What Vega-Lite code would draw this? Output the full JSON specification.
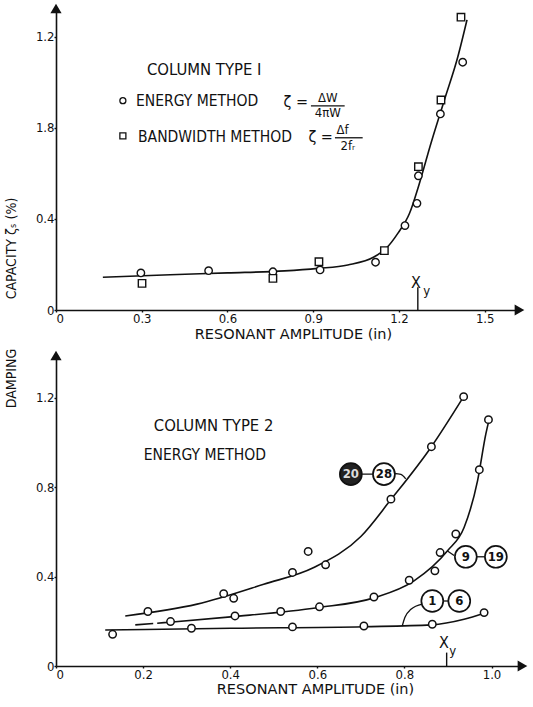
{
  "$schema": "https://vega.github.io/schema/vega-lite/v6.json",
  "background": "white",
  "padding": {"left": 3, "top": 1, "right": 5, "bottom": 0},
  "spacing": 7,
  "config": {
    "view": {"stroke": null},
    "font": "DejaVu Sans Condensed",
    "axis": {
      "domainColor": "#111", "domainWidth": 1.6, "tickColor": "#111", "tickWidth": 1.4, "tickSize": 2,
      "labelColor": "#111", "titleColor": "#111", "labelFont": "DejaVu Sans Condensed", "titleFont": "DejaVu Sans Condensed",
      "labelFontSize": 13, "titleFontSize": 14, "titleFontWeight": "normal", "grid": false, "labelPadding": 0
    }
  },
  "vconcat": [
    {
      "width": 463,
      "height": 301,
      "encoding": {
        "x": {"field": "x", "type": "quantitative", "scale": {"domain": [0, 1.62], "nice": false, "zero": false},
          "axis": {"title": "RESONANT AMPLITUDE (in)", "values": [0, 0.3, 0.6, 0.9, 1.2, 1.5],
            "labelExpr": "datum.value == 0 ? '0' : format(datum.value, '.1f')", "titleX": 237, "titlePadding": 2,
            "titleFont": "DejaVu Sans", "titleFontSize": 14.5}},
        "y": {"field": "y", "type": "quantitative", "scale": {"domain": [0, 1.323], "nice": false},
          "axis": {"title": "CAPACITY ζₛ (%)", "values": [0, 0.4, 0.8, 1.2],
            "labelExpr": "datum.value == 0 ? '0' : (datum.value == 0.8 ? '1.8' : format(datum.value, '.1f'))",
            "titleX": -38, "titleY": 239}}
      },
      "layer": [
        {
          "data": {"values": [
            {"x": 0.164, "y": 0.144}, {"x": 0.4, "y": 0.155}, {"x": 0.6, "y": 0.163}, {"x": 0.8, "y": 0.172},
            {"x": 0.916, "y": 0.183}, {"x": 1.021, "y": 0.198}, {"x": 1.114, "y": 0.234}, {"x": 1.155, "y": 0.271},
            {"x": 1.196, "y": 0.337}, {"x": 1.237, "y": 0.425}, {"x": 1.268, "y": 0.542}, {"x": 1.312, "y": 0.733},
            {"x": 1.359, "y": 0.923}, {"x": 1.406, "y": 1.113}, {"x": 1.438, "y": 1.275}
          ]},
          "mark": {"type": "line", "interpolate": "monotone", "stroke": "#111", "strokeWidth": 1.6}
        },
        {
          "data": {"values": [
            {"x": 0.297, "y": 0.163, "method": "energy"}, {"x": 0.534, "y": 0.173, "method": "energy"},
            {"x": 0.759, "y": 0.168, "method": "energy"}, {"x": 0.924, "y": 0.176, "method": "energy"},
            {"x": 1.118, "y": 0.21, "method": "energy"}, {"x": 1.221, "y": 0.371, "method": "energy"},
            {"x": 1.263, "y": 0.469, "method": "energy"}, {"x": 1.268, "y": 0.59, "method": "energy"},
            {"x": 1.345, "y": 0.862, "method": "energy"}, {"x": 1.423, "y": 1.089, "method": "energy"},
            {"x": 0.301, "y": 0.117, "method": "bandwidth"}, {"x": 0.759, "y": 0.139, "method": "bandwidth"},
            {"x": 0.92, "y": 0.212, "method": "bandwidth"}, {"x": 1.149, "y": 0.261, "method": "bandwidth"},
            {"x": 1.268, "y": 0.63, "method": "bandwidth"}, {"x": 1.347, "y": 0.923, "method": "bandwidth"},
            {"x": 1.417, "y": 1.287, "method": "bandwidth"}
          ]},
          "mark": {"type": "point", "filled": true, "fill": "white", "stroke": "#111", "strokeWidth": 1.4, "size": 55, "opacity": 1},
          "encoding": {"shape": {"field": "method", "type": "nominal",
            "scale": {"domain": ["energy", "bandwidth", "up", "right"], "range": ["circle", "square", "triangle-up", "triangle-right"]}, "legend": null}}
        },
        {
          "data": {"values": [
            {"x": 0.234, "y": 0.92, "method": "energy"}, {"x": 0.234, "y": 0.765, "method": "bandwidth"}
          ]},
          "mark": {"type": "point", "filled": true, "fill": "white", "stroke": "#111", "strokeWidth": 1.3, "size": 36, "opacity": 1},
          "encoding": {"shape": {"field": "method", "type": "nominal",
            "scale": {"domain": ["energy", "bandwidth", "up", "right"], "range": ["circle", "square", "triangle-up", "triangle-right"]}, "legend": null}}
        },
        {
          "data": {"values": [
            {"x": 0.318, "y": 1.055, "t": "COLUMN TYPE I"}
          ]},
          "mark": {"type": "text", "align": "left", "baseline": "middle", "fontSize": 16.5, "fill": "#111", "font": "DejaVu Sans Condensed"},
          "encoding": {"text": {"field": "t"}}
        },
        {
          "data": {"values": [
            {"x": 0.28, "y": 0.92, "t": "ENERGY METHOD"},
            {"x": 0.287, "y": 0.76, "t": "BANDWIDTH METHOD"}
          ]},
          "mark": {"type": "text", "align": "left", "baseline": "middle", "fontSize": 15.5, "fill": "#111", "font": "DejaVu Sans Condensed"},
          "encoding": {"text": {"field": "t"}}
        },
        {
          "data": {"values": [
            {"x": 0.839, "y": 0.915, "t": "ζ ="}, {"x": 0.926, "y": 0.76, "t": "ζ ="},
            {"x": 1.259, "y": 0.119, "t": "X"}
          ]},
          "mark": {"type": "text", "align": "center", "baseline": "middle", "fontSize": 16, "fill": "#111", "font": "DejaVu Sans Condensed"},
          "encoding": {"text": {"field": "t"}}
        },
        {
          "data": {"values": [
            {"x": 0.951, "y": 0.93, "t": "ΔW"}, {"x": 0.951, "y": 0.867, "t": "4πW"},
            {"x": 1.003, "y": 0.79, "t": "Δf"}, {"x": 1.021, "y": 0.722, "t": "2fᵣ"},
            {"x": 1.297, "y": 0.085, "t": "y"}
          ]},
          "mark": {"type": "text", "align": "center", "baseline": "middle", "fontSize": 13, "fill": "#111", "font": "DejaVu Sans Condensed"},
          "encoding": {"text": {"field": "t"}}
        },
        {
          "data": {"values": [
            {"x": 0.892, "x2": 1.01, "y": 0.897}, {"x": 0.976, "x2": 1.073, "y": 0.757}
          ]},
          "mark": {"type": "rule", "stroke": "#111", "strokeWidth": 1.3},
          "encoding": {"x2": {"field": "x2"}}
        },
        {
          "data": {"values": [{"x": 1.266, "y": 0, "y2": 0.1}]},
          "mark": {"type": "rule", "stroke": "#111", "strokeWidth": 1.4},
          "encoding": {"y2": {"field": "y2"}}
        },
        {
          "data": {"values": [{"x": 0, "y": 1.323, "method": "up"}, {"x": 1.62, "y": 0, "method": "right"}]},
          "mark": {"type": "point", "filled": true, "fill": "#111", "stroke": "#111", "size": 60, "opacity": 1},
          "encoding": {"shape": {"field": "method", "type": "nominal",
            "scale": {"domain": ["energy", "bandwidth", "up", "right"], "range": ["circle", "square", "triangle-up", "triangle-right"]}, "legend": null}}
        }
      ]
    },
    {
      "width": 466,
      "height": 310,
      "encoding": {
        "x": {"field": "x", "type": "quantitative", "scale": {"domain": [0, 1.07], "nice": false, "zero": false},
          "axis": {"title": "RESONANT AMPLITUDE (in)", "values": [0, 0.2, 0.4, 0.6, 0.8, 1.0],
            "labelExpr": "datum.value == 0 ? '0' : format(datum.value, '.1f')", "titleX": 259, "titlePadding": 1,
            "titleFont": "DejaVu Sans", "titleFontSize": 14.5}},
        "y": {"field": "y", "type": "quantitative", "scale": {"domain": [0, 1.388], "nice": false},
          "axis": {"title": "DAMPING", "values": [0, 0.4, 0.8, 1.2],
            "labelExpr": "datum.value == 0 ? '0' : format(datum.value, '.1f')",
            "titleX": -38, "titleY": 22}}
      },
      "layer": [
        {
          "data": {"values": [
            {"x": 0.159, "y": 0.224, "series": "20-28"}, {"x": 0.324, "y": 0.277, "series": "20-28"},
            {"x": 0.477, "y": 0.366, "series": "20-28"}, {"x": 0.592, "y": 0.441, "series": "20-28"},
            {"x": 0.70, "y": 0.58, "series": "20-28"}, {"x": 0.769, "y": 0.745, "series": "20-28"},
            {"x": 0.862, "y": 0.982, "series": "20-28"}, {"x": 0.936, "y": 1.206, "series": "20-28"},
            {"x": 0.248, "y": 0.194, "series": "9-19"}, {"x": 0.401, "y": 0.22, "series": "9-19"},
            {"x": 0.6, "y": 0.261, "series": "9-19"}, {"x": 0.73, "y": 0.305, "series": "9-19"},
            {"x": 0.822, "y": 0.381, "series": "9-19"}, {"x": 0.899, "y": 0.516, "series": "9-19"},
            {"x": 0.937, "y": 0.62, "series": "9-19"}, {"x": 0.968, "y": 0.83, "series": "9-19"},
            {"x": 0.987, "y": 1.039, "series": "9-19"}, {"x": 0.994, "y": 1.1, "series": "9-19"},
            {"x": 0.113, "y": 0.161, "series": "1-6"}, {"x": 0.401, "y": 0.169, "series": "1-6"},
            {"x": 0.707, "y": 0.176, "series": "1-6"}, {"x": 0.862, "y": 0.184, "series": "1-6"},
            {"x": 0.937, "y": 0.209, "series": "1-6"}, {"x": 0.983, "y": 0.236, "series": "1-6"}
          ]},
          "mark": {"type": "line", "interpolate": "monotone", "stroke": "#111", "strokeWidth": 1.6},
          "encoding": {"detail": {"field": "series"}}
        },
        {
          "data": {"values": [{"x": 0.182, "y": 0.184}, {"x": 0.248, "y": 0.194}]},
          "mark": {"type": "line", "stroke": "#111", "strokeWidth": 1.6, "strokeDash": [18, 4]}
        },
        {
          "data": {"values": [
            {"x": 0.776, "y": 0.862, "leader": "28"}, {"x": 0.792, "y": 0.858, "leader": "28"}, {"x": 0.803, "y": 0.838, "leader": "28"},
            {"x": 0.899, "y": 0.515, "leader": "9"}, {"x": 0.914, "y": 0.495, "leader": "9"},
            {"x": 0.795, "y": 0.179, "leader": "1"}, {"x": 0.801, "y": 0.217, "leader": "1"},
            {"x": 0.815, "y": 0.254, "leader": "1"}, {"x": 0.841, "y": 0.277, "leader": "1"}
          ]},
          "mark": {"type": "line", "interpolate": "monotone", "stroke": "#111", "strokeWidth": 1.3},
          "encoding": {"detail": {"field": "leader"}}
        },
        {
          "data": {"values": [
            {"x": 0.211, "y": 0.244}, {"x": 0.385, "y": 0.324}, {"x": 0.408, "y": 0.303}, {"x": 0.543, "y": 0.419},
            {"x": 0.579, "y": 0.513}, {"x": 0.619, "y": 0.453}, {"x": 0.769, "y": 0.747}, {"x": 0.862, "y": 0.982},
            {"x": 0.936, "y": 1.206},
            {"x": 0.263, "y": 0.199}, {"x": 0.411, "y": 0.224}, {"x": 0.516, "y": 0.244}, {"x": 0.605, "y": 0.265},
            {"x": 0.73, "y": 0.309}, {"x": 0.811, "y": 0.384}, {"x": 0.87, "y": 0.426}, {"x": 0.882, "y": 0.508},
            {"x": 0.918, "y": 0.591}, {"x": 0.972, "y": 0.879}, {"x": 0.993, "y": 1.103},
            {"x": 0.13, "y": 0.142}, {"x": 0.311, "y": 0.169}, {"x": 0.543, "y": 0.175}, {"x": 0.707, "y": 0.179},
            {"x": 0.864, "y": 0.187}, {"x": 0.983, "y": 0.239}
          ]},
          "mark": {"type": "point", "shape": "circle", "filled": true, "fill": "white", "stroke": "#111", "strokeWidth": 1.5, "size": 55, "opacity": 1}
        },
        {
          "data": {"values": [
            {"x": 0.677, "x2": 0.753, "y": 0.859}, {"x": 0.941, "x2": 1.01, "y": 0.489}, {"x": 0.864, "x2": 0.926, "y": 0.291}
          ]},
          "mark": {"type": "rule", "stroke": "#111", "strokeWidth": 1.3},
          "encoding": {"x2": {"field": "x2"}}
        },
        {
          "data": {"values": [
            {"x": 0.677, "y": 0.859, "label": "20"}, {"x": 0.753, "y": 0.859, "label": "28"},
            {"x": 0.941, "y": 0.489, "label": "9"}, {"x": 1.01, "y": 0.489, "label": "19"},
            {"x": 0.864, "y": 0.291, "label": "1"}, {"x": 0.926, "y": 0.291, "label": "6"}
          ]},
          "layer": [
            {
              "mark": {"type": "point", "shape": "circle", "filled": true, "stroke": "#111", "strokeWidth": 1.7, "size": 480, "opacity": 1},
              "encoding": {"fill": {"field": "label", "type": "nominal",
                "scale": {"domain": ["20", "28", "9", "19", "1", "6"], "range": ["#222", "white", "white", "white", "white", "white"]}, "legend": null}}
            },
            {
              "mark": {"type": "text", "align": "center", "baseline": "middle", "fontSize": 13, "fontWeight": "bold", "font": "DejaVu Sans Condensed"},
              "encoding": {"text": {"field": "label"}, "color": {"field": "label", "type": "nominal",
                "scale": {"domain": ["20", "28", "9", "19", "1", "6"], "range": ["#ddd", "#111", "#111", "#111", "#111", "#111"]}, "legend": null}}
            }
          ]
        },
        {
          "data": {"values": [
            {"x": 0.2245, "y": 1.076, "t": "COLUMN TYPE 2"}
          ]},
          "mark": {"type": "text", "align": "left", "baseline": "middle", "fontSize": 16.5, "fill": "#111", "font": "DejaVu Sans Condensed"},
          "encoding": {"text": {"field": "t"}}
        },
        {
          "data": {"values": [
            {"x": 0.2016, "y": 0.946, "t": "ENERGY METHOD"}
          ]},
          "mark": {"type": "text", "align": "left", "baseline": "middle", "fontSize": 15.5, "fill": "#111", "font": "DejaVu Sans Condensed"},
          "encoding": {"text": {"field": "t"}}
        },
        {
          "data": {"values": [{"x": 0.891, "y": 0.105, "t": "X"}]},
          "mark": {"type": "text", "align": "center", "baseline": "middle", "fontSize": 16, "fill": "#111", "font": "DejaVu Sans Condensed"},
          "encoding": {"text": {"field": "t"}}
        },
        {
          "data": {"values": [{"x": 0.911, "y": 0.068, "t": "y"}]},
          "mark": {"type": "text", "align": "center", "baseline": "middle", "fontSize": 13, "fill": "#111", "font": "DejaVu Sans Condensed"},
          "encoding": {"text": {"field": "t"}}
        },
        {
          "data": {"values": [{"x": 0.897, "y": 0, "y2": 0.06}]},
          "mark": {"type": "rule", "stroke": "#111", "strokeWidth": 1.4},
          "encoding": {"y2": {"field": "y2"}}
        },
        {
          "data": {"values": [{"x": 0, "y": 1.388, "dir": "up"}, {"x": 1.07, "y": 0, "dir": "right"}]},
          "mark": {"type": "point", "filled": true, "fill": "#111", "stroke": "#111", "size": 60, "opacity": 1},
          "encoding": {"shape": {"field": "dir", "type": "nominal",
            "scale": {"domain": ["up", "right"], "range": ["triangle-up", "triangle-right"]}, "legend": null}}
        }
      ]
    }
  ]
}
